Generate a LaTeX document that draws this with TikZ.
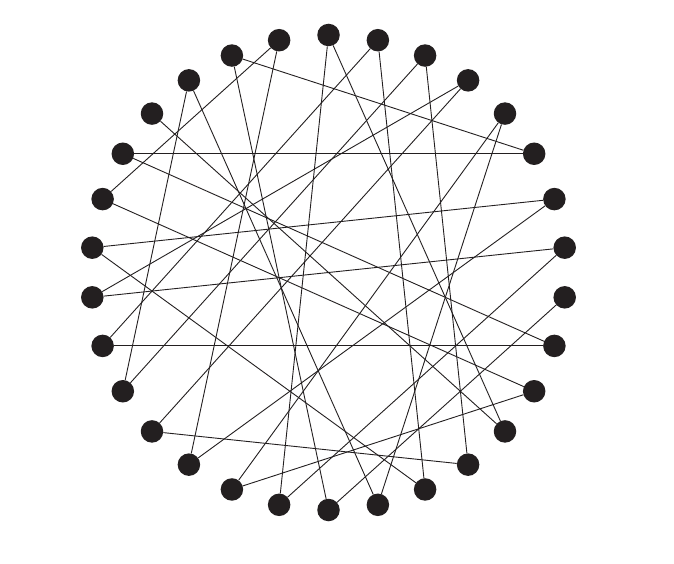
\documentclass[tikz,border=0pt]{standalone}
\usepackage{xcolor}
\definecolor{dotcol}{HTML}{231F20}
\begin{document}
\begin{tikzpicture}[x=1pt,y=-1pt,
  dot/.style={circle,fill=dotcol,draw=none,minimum size=22.5pt,inner sep=0pt},
  edge/.style={draw=dotcol,line width=0.9pt}]
\useasboundingbox (0,0) rectangle (674,564);
\fill[white] (0,0) rectangle (674,564);
\foreach \i in {0,...,29}{
  \node[dot] (n\i) at ({328.5+237.5*cos(90-12*\i)},{272.5-237.5*sin(90-12*\i)}) {};
}
\foreach \a/\b in {26/11,11/0,0/16,16/7,7/22,22/3,3/19,19/12,12/2,2/20,20/27,27/14,14/4,4/17,17/10,10/24,24/29,29/18,18/6,6/23,23/13,13/1,1/21,21/9,9/25,25/5,5/28,28/15,15/8}{
  \draw[edge] (n\a) -- (n\b);
}
\end{tikzpicture}
\end{document}
